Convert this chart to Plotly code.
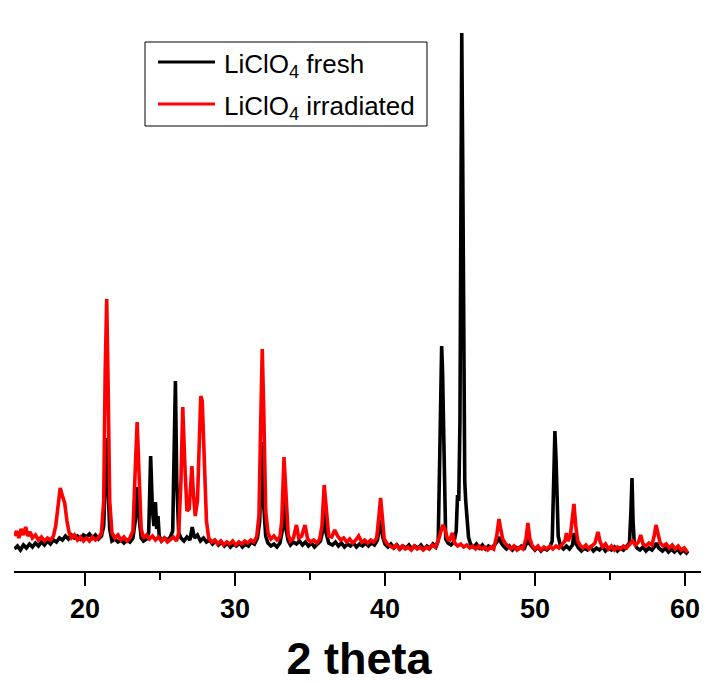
import plotly.graph_objects as go

# ---------------- data (intensity in a.u.) ----------------
fresh_2theta = [
    15.3, 15.5, 15.7, 15.9, 16.1, 16.3, 16.5, 16.7, 16.9, 17.1, 17.3, 17.5, 17.7, 17.9,
    18.1, 18.3, 18.5, 18.7, 18.9, 19.1, 19.3, 19.5, 19.7, 19.9, 20.1, 20.3, 20.5, 20.7,
    20.9, 21.1, 21.25, 21.35, 21.45, 21.55, 21.65, 21.8, 22.0, 22.2, 22.4, 22.6, 22.8,
    23.0, 23.2, 23.35, 23.48, 23.6, 23.75, 23.9, 24.1, 24.25, 24.38, 24.5, 24.6, 24.7,
    24.78, 24.87, 24.95, 25.1, 25.3, 25.5, 25.7, 25.85, 25.95, 26.03, 26.12, 26.25, 26.4,
    26.6, 26.8, 27.0, 27.15, 27.3, 27.5, 27.7, 27.9, 28.1, 28.3, 28.5, 28.7, 28.9, 29.1,
    29.3, 29.5, 29.7, 29.9, 30.1, 30.3, 30.5, 30.7, 30.9, 31.1, 31.3, 31.5, 31.65, 31.78,
    31.9, 32.05, 32.2, 32.4, 32.6, 32.8, 33.0, 33.15, 33.27, 33.4, 33.55, 33.7, 33.9, 34.1,
    34.3, 34.5, 34.7, 34.9, 35.1, 35.3, 35.5, 35.7, 35.85, 35.95, 36.08, 36.25, 36.5, 36.7,
    36.9, 37.1, 37.3, 37.5, 37.7, 37.9, 38.1, 38.3, 38.5, 38.7, 38.9, 39.1, 39.3, 39.5,
    39.62, 39.72, 39.85, 40.0, 40.2, 40.4, 40.6, 40.8, 41.0, 41.2, 41.4, 41.6, 41.8, 42.0,
    42.2, 42.4, 42.6, 42.8, 43.0, 43.2, 43.4, 43.55, 43.66, 43.72, 43.78, 43.84, 43.89,
    43.96, 44.05, 44.2, 44.4, 44.6, 44.75, 44.84, 44.92, 45.0, 45.07, 45.12, 45.18, 45.25,
    45.32, 45.38, 45.48, 45.57, 45.7, 45.9, 46.1, 46.3, 46.5, 46.7, 46.9, 47.1, 47.3, 47.5,
    47.62, 47.75, 47.9, 48.1, 48.3, 48.5, 48.7, 48.9, 49.1, 49.3, 49.5, 49.62, 49.8, 50.0,
    50.2, 50.4, 50.6, 50.8, 51.0, 51.15, 51.25, 51.33, 51.41, 51.47, 51.55, 51.7, 51.9,
    52.1, 52.3, 52.5, 52.62, 52.75, 52.9, 53.1, 53.3, 53.5, 53.7, 53.9, 54.1, 54.3, 54.5,
    54.7, 54.9, 55.1, 55.3, 55.5, 55.7, 55.9, 56.1, 56.3, 56.4, 56.47, 56.54, 56.62, 56.8,
    57.0, 57.2, 57.4, 57.6, 57.8, 58.0, 58.1, 58.25, 58.5, 58.7, 58.9, 59.1, 59.3, 59.5,
    59.7, 59.9, 60.1, 60.2,
]
fresh_intensity = [
    22, 25, 21, 26, 23, 27, 24, 28, 25, 29, 26, 30, 27, 31,
    29, 33, 31, 35, 32, 36, 33, 35, 32, 36, 34, 37, 33, 36,
    32, 35, 45, 90, 133, 80, 42, 30, 32, 29, 31, 28, 31,
    29, 33, 50, 84, 55, 33, 30, 32, 38, 115, 60, 45, 69,
    42, 55, 35, 30, 33, 31, 34, 40, 120, 190, 90, 38, 33,
    30, 34, 31, 44, 33, 36, 30, 33, 29, 31, 27, 30, 26, 29,
    25, 28, 24, 27, 25, 28, 24, 27, 25, 29, 27, 33, 50, 129,
    70, 35, 28, 25, 27, 24, 28, 40, 75, 42, 30, 26, 29, 27,
    30, 26, 29, 25, 28, 24, 27, 30, 40, 61, 38, 28, 26, 29,
    25, 28, 24, 27, 25, 28, 24, 27, 25, 28, 25, 28, 26, 31,
    42, 51, 34, 27, 24, 27, 23, 26, 22, 25, 23, 26, 22, 25,
    23, 26, 22, 25, 23, 27, 24, 30, 120, 190, 225, 200, 156,
    70, 32, 28, 26, 29, 40, 76, 70, 150, 450, 538, 420, 200,
    90, 71, 55, 34, 27, 24, 27, 23, 26, 22, 25, 23, 26, 30,
    34, 28, 25, 22, 25, 21, 24, 22, 25, 23, 30, 28, 24, 21,
    24, 20, 23, 21, 24, 30, 90, 140, 110, 62, 35, 25, 22,
    25, 22, 26, 38, 27, 23, 20, 23, 21, 24, 20, 23, 21, 24,
    20, 23, 21, 24, 20, 23, 21, 24, 28, 60, 93, 50, 28, 23,
    21, 24, 20, 23, 21, 25, 28, 23, 20, 23, 19, 22, 19, 22,
    18, 21, 18, 20,
]

irradiated_2theta = [
    15.3, 15.45, 15.6, 15.75, 15.9, 16.05, 16.2, 16.35, 16.5, 16.7, 16.9, 17.1, 17.3, 17.5,
    17.7, 17.9, 18.05, 18.2, 18.35, 18.5, 18.65, 18.8, 18.95, 19.1, 19.3, 19.5, 19.7, 19.9,
    20.1, 20.3, 20.5, 20.7, 20.9, 21.1, 21.25, 21.35, 21.45, 21.55, 21.65, 21.8, 22.0, 22.2,
    22.4, 22.6, 22.8, 23.0, 23.2, 23.35, 23.48, 23.6, 23.75, 23.9, 24.1, 24.3, 24.5, 24.7,
    24.9, 25.1, 25.3, 25.5, 25.7, 25.9, 26.1, 26.25, 26.4, 26.52, 26.65, 26.8, 26.95, 27.05,
    27.13, 27.22, 27.35, 27.5, 27.62, 27.72, 27.82, 27.95, 28.1, 28.25, 28.45, 28.65, 28.85,
    29.05, 29.25, 29.45, 29.65, 29.85, 30.05, 30.25, 30.45, 30.65, 30.85, 31.05, 31.25,
    31.45, 31.6, 31.72, 31.82, 31.92, 32.05, 32.2, 32.4, 32.6, 32.8, 33.0, 33.12, 33.27,
    33.4, 33.55, 33.7, 33.9, 34.1, 34.25, 34.45, 34.67, 34.85, 35.05, 35.25, 35.45, 35.65,
    35.8, 35.95, 36.08, 36.25, 36.45, 36.65, 36.85, 37.05, 37.25, 37.45, 37.65, 37.85,
    38.05, 38.25, 38.45, 38.65, 38.85, 39.05, 39.25, 39.45, 39.6, 39.71, 39.82, 39.95,
    40.15, 40.35, 40.55, 40.75, 40.95, 41.15, 41.35, 41.55, 41.75, 41.95, 42.15, 42.35,
    42.55, 42.75, 42.95, 43.15, 43.35, 43.55, 43.7, 43.85, 44.0, 44.15, 44.3, 44.5, 44.65,
    44.85, 45.05, 45.25, 45.45, 45.65, 45.85, 46.05, 46.25, 46.45, 46.65, 46.85, 47.05,
    47.25, 47.45, 47.6, 47.72, 47.85, 48.0, 48.2, 48.4, 48.6, 48.8, 49.0, 49.2, 49.4, 49.53,
    49.65, 49.8, 50.0, 50.2, 50.4, 50.6, 50.8, 51.0, 51.2, 51.4, 51.6, 51.8, 52.0, 52.1,
    52.2, 52.35, 52.5, 52.6, 52.72, 52.85, 53.0, 53.2, 53.4, 53.6, 53.8, 54.0, 54.2, 54.35,
    54.5, 54.7, 54.9, 55.1, 55.3, 55.5, 55.7, 55.9, 56.1, 56.3, 56.5, 56.7, 56.9, 57.05,
    57.2, 57.4, 57.6, 57.8, 57.95, 58.07, 58.2, 58.35, 58.55, 58.75, 58.95, 59.15, 59.35,
    59.55, 59.75, 59.95, 60.1, 60.2,
]
irradiated_intensity = [
    35, 40, 33, 42, 36, 44, 35, 39, 33, 36, 31, 34, 30, 33,
    31, 35, 45, 65, 83, 75, 68, 50, 38, 33, 36, 31, 34, 30,
    33, 30, 34, 31, 33, 38, 70, 200, 272, 180, 70, 38, 33, 36,
    31, 34, 30, 33, 40, 100, 149, 100, 42, 33, 36, 32, 35, 31,
    34, 30, 33, 29, 32, 34, 30, 38, 90, 164, 110, 60, 62, 85,
    105, 80, 55, 70, 140, 175, 170, 110, 50, 33, 29, 31, 27,
    30, 26, 29, 27, 30, 26, 29, 27, 30, 28, 31, 29,
    34, 55, 150, 222, 160, 60, 38, 32, 35, 31, 34, 50, 114,
    70, 36, 30, 33, 46, 33, 35, 46, 32, 29, 31, 28, 32,
    45, 86, 60, 35, 34, 41, 35, 31, 33, 29, 32, 28,
    31, 35, 29, 31, 28, 31, 29, 33, 55, 73, 55, 32,
    27, 25, 23, 26, 22, 25, 22, 24, 21, 25, 22, 24,
    21, 24, 22, 26, 24, 30, 38, 46, 42, 33, 30, 38, 28,
    25, 27, 24, 26, 23, 25, 22, 25, 22, 24, 21, 24,
    22, 35, 52, 42, 32, 28, 25, 22, 25, 21, 24, 22, 32, 48,
    33, 26, 22, 25, 21, 24, 22, 25, 22, 25, 23, 26, 30, 38,
    30, 34, 50, 67, 45, 30, 26, 23, 26, 22, 25, 28, 39, 29,
    24, 27, 22, 25, 21, 24, 22, 25, 23, 27, 30, 26, 29, 36,
    27, 25, 28, 26, 35, 46, 36, 28, 25, 27, 23, 26, 22,
    25, 21, 23, 20, 21,
]

series_names = ["LiClO<sub>4</sub> fresh", "LiClO<sub>4</sub> irradiated"]
series_colors = ["#000000", "#ff0000"]
x_tick_values = [20, 30, 40, 50, 60]
x_tick_labels = ["20", "30", "40", "50", "60"]
x_title = "2 theta"

# ---------------- figure ----------------
# the page body has an 8 px margin, so the figure is 8 px smaller on each axis
# and every position below is given relative to the figure's own corner
OFF = 8
W, H = 709 - OFF, 684 - OFF
ML, MR, MT, MB = 14 - OFF, 5, 20 - OFF, 113
PW, PH = W - ML - MR, H - MT - MB

fig = go.Figure()
for xs, ys, name, col in [
    (fresh_2theta, fresh_intensity, series_names[0], series_colors[0]),
    (irradiated_2theta, irradiated_intensity, series_names[1], series_colors[1]),
]:
    fig.add_trace(go.Scatter(x=xs, y=ys, mode="lines", name=name,
                             line=dict(color=col, width=3.6), showlegend=False))


def px_x(p):
    """page pixel x -> paper coordinate"""
    return (p - OFF - ML) / PW


def px_y(p):
    """page pixel y -> paper coordinate"""
    return (MT + PH - (p - OFF)) / PH


# manual legend box
fig.add_shape(type="rect", xref="paper", yref="paper",
              x0=px_x(145), x1=px_x(427), y0=px_y(126), y1=px_y(42),
              line=dict(color="black", width=1), fillcolor="white", layer="above")
for i, py in enumerate([62, 104]):
    fig.add_shape(type="line", xref="paper", yref="paper",
                  x0=px_x(158), x1=px_x(215), y0=px_y(py), y1=px_y(py),
                  line=dict(color=series_colors[i], width=3), layer="above")
    fig.add_annotation(xref="paper", yref="paper", x=px_x(222), y=px_y(py + 4),
                       xanchor="left", yanchor="middle", showarrow=False,
                       text=series_names[i],
                       font=dict(family="Liberation Sans, Arial, sans-serif",
                                 size=26, color="black"))

fig.update_layout(
    width=W, height=H,
    margin=dict(l=ML, r=MR, t=MT, b=MB, pad=0),
    paper_bgcolor="white", plot_bgcolor="white",
    showlegend=False,
)
fig.update_xaxes(
    range=[15.27, 61.27],
    showline=True, linecolor="black", linewidth=2,
    showgrid=False, zeroline=False,
    ticks="outside", ticklen=13, tickwidth=2, tickcolor="black",
    tickvals=x_tick_values, ticktext=x_tick_labels,
    minor=dict(ticks="outside", ticklen=7, tickwidth=2, tickcolor="black", dtick=5, tick0=0),
    tickfont=dict(family="Liberation Sans, Arial, sans-serif", size=27, color="black",
                  weight="bold"),
    title=dict(text=x_title, standoff=22,
               font=dict(family="Liberation Sans, Arial, sans-serif",
                         size=45, color="black", weight="bold")),
)
fig.update_yaxes(range=[0, PH], visible=False, showgrid=False, zeroline=False)

fig.write_html("out.html")
